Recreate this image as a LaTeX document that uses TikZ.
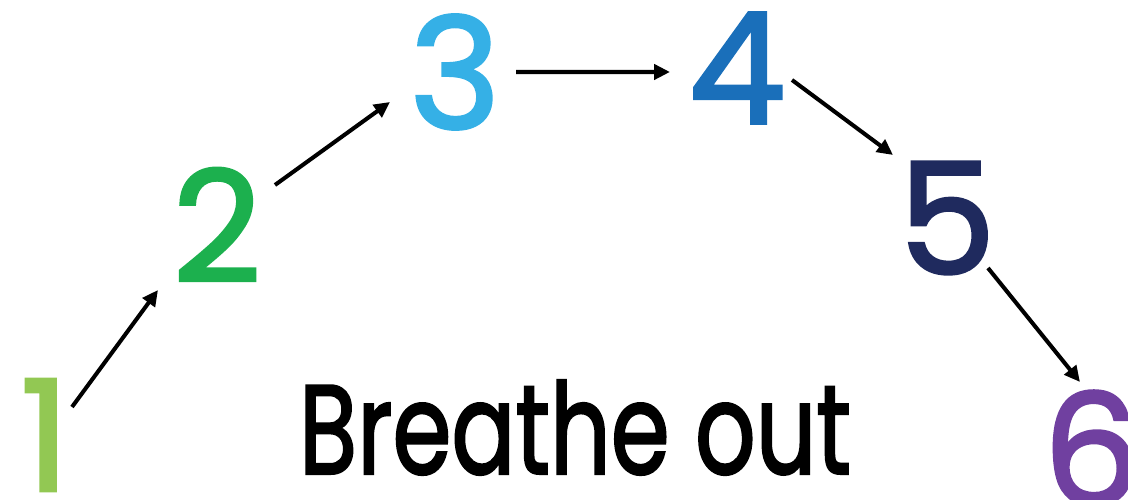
\documentclass[tikz,border=0pt]{standalone}
\usepackage{fontspec}
\setmainfont{Poppins}
\newfontfamily\medfont[FakeBold=2]{Poppins}
\usetikzlibrary{arrows.meta}

\definecolor{cone}{HTML}{92C853}
\definecolor{ctwo}{HTML}{1CB04E}
\definecolor{cthree}{HTML}{35B0E6}
\definecolor{cfour}{HTML}{1A6FBA}
\definecolor{cfive}{HTML}{1F2A5E}
\definecolor{csix}{HTML}{7040A0}

\begin{document}
\begin{tikzpicture}[
    num/.style={inner sep=0pt, font=\fontsize{88}{88}\medfont},
    arr/.style={-{Triangle[length=9pt, width=8.5pt]}, line width=2.3pt},
    lbl/.style={inner sep=0pt, xscale=0.75, transform shape, font=\fontsize{72}{72}\medfont}
]
\useasboundingbox (0,0) rectangle (22.56,10);
\node[num, text=cone] (one) at (0.9,1.3) {1};
\node[num, text=ctwo] (two) at (4.34,5.5) {2};
\node[num, text=cthree] (three) at (9.1,8.56) {3};
\node[num, text=cfour] (four) at (14.74,8.64) {4};
\node[num, text=cfive] (five) at (18.94,5.64) {5};
\node[num, text=csix] (six) at (21.84,1.04) {6};
\node[lbl] (out) at (11.5,1.45) {Breathe out};

\draw[arr] ([shift={(0.54,0.56)}]one.center) -- ([shift={(-1.18,-1.3)}]two.center);
\draw[arr] ([shift={(1.16,0.8)}]two.center) -- ([shift={(-1.3,-0.6)}]three.center);
\draw[arr] ([shift={(1.22,0)}]three.center) -- ([shift={(-1.34,-0.08)}]four.center);
\draw[arr] ([shift={(1.1,-0.24)}]four.center) -- ([shift={(-1.08,1.26)}]five.center);
\draw[arr] ([shift={(0.82,-1.0)}]five.center) -- ([shift={(-0.24,1.32)}]six.center);
\end{tikzpicture}
\end{document}
